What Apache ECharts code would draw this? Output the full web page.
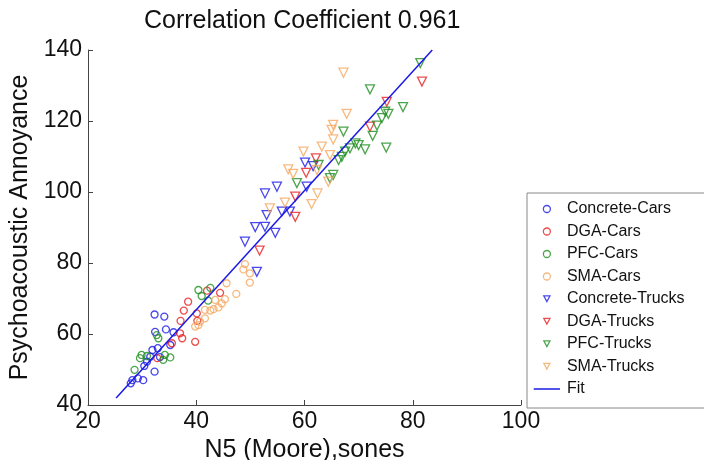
<!DOCTYPE html>
<html>
<head>
<meta charset="utf-8">
<title>Correlation Coefficient 0.961</title>
<script src="https://cdn.jsdelivr.net/npm/echarts@6/dist/echarts.min.js"></script>
<style>
  html, body { margin: 0; padding: 0; background: #fff; }
  #chart { width: 704px; height: 460px; }
</style>
</head>
<body>
<div id="chart"></div>
<script>
// N5 (sones), annoyance 数据
const concreteCars = [
  [32.3, 65.5], [34.1, 64.9], [32.4, 60.6], [34.4, 61.3], [35.8, 60.5],
  [31.9, 55.5], [32.9, 56.0], [31.5, 53.6], [30.9, 52.2], [30.4, 51.0],
  [32.3, 49.4], [29.2, 47.5], [30.2, 47.0], [28.2, 47.0], [27.9, 46.1],
  [33.3, 53.5], [35.2, 56.9],
];
const dgaCars = [
  [38.5, 69.1], [37.7, 66.6], [37.1, 63.7], [40.2, 63.7], [39.8, 57.8],
  [37.0, 60.2], [37.4, 58.8], [35.5, 57.4], [32.8, 53.2], [40.1, 65.8],
  [42.0, 72.2], [44.4, 71.6],
];
const pfcCars = [
  [40.4, 72.4], [42.6, 73.0], [41.0, 70.7], [42.2, 69.4], [32.7, 59.7],
  [33.0, 58.8], [29.9, 54.1], [29.6, 53.2], [28.6, 49.9], [34.2, 54.1],
  [35.2, 53.4], [33.9, 52.7], [30.9, 53.8],
];
const smaCars = [
  [49.0, 79.7], [48.7, 78.2], [49.9, 77.1], [49.9, 74.5], [45.6, 74.3],
  [47.4, 71.3], [45.3, 69.8], [44.7, 68.6], [44.1, 67.5], [43.2, 67.0],
  [42.6, 66.6], [41.6, 64.4], [39.8, 62.1], [40.7, 63.5], [41.6, 66.8],
  [40.4, 62.5], [43.5, 69.6],
];
const concreteTrucks = [
  [50.9, 90.1], [52.7, 90.2], [54.6, 88.5], [49.0, 86.0], [51.2, 77.5],
  [60.1, 108.3], [61.6, 107.3], [60.4, 101.5], [52.7, 99.6], [54.9, 101.5],
  [55.8, 94.5], [57.3, 94.5], [53.0, 93.5],
];
const dgaTrucks = [
  [81.7, 131.1], [75.2, 125.4], [72.1, 118.4], [62.1, 109.5], [60.3, 105.4],
  [58.3, 98.7], [58.3, 93.0], [51.7, 83.5],
];
const pfcTrucks = [
  [81.4, 136.3], [72.1, 128.9], [78.2, 123.9], [74.9, 122.6], [75.5, 122.0],
  [74.3, 120.8], [73.4, 118.7], [72.6, 115.8], [75.1, 112.5], [67.2, 117.0],
  [69.4, 113.7], [70.0, 113.2], [71.2, 112.0], [68.4, 112.3], [67.5, 111.4],
  [66.9, 109.9], [66.3, 109.0], [65.3, 104.8], [64.7, 103.9], [62.6, 107.6],
  [58.6, 102.5],
];
const smaTrucks = [
  [67.2, 133.6], [67.8, 122.0], [65.3, 118.9], [65.0, 117.5], [65.3, 114.8],
  [63.2, 112.8], [59.8, 111.4], [64.7, 110.4], [57.0, 106.4], [57.9, 105.1],
  [64.4, 102.9], [62.4, 99.6], [61.3, 96.6], [56.4, 97.0], [53.6, 95.4],
  [62.3, 106.2],
];
// 拟合直线两端
const fitLine = [[25.2, 42.0], [83.6, 140.0]];

const kFont = '"Liberation Sans", Arial, sans-serif';
const kBlue = '#1a1ae6';
const kRed = '#e62020';
const kGreen = '#1f8f1f';
const kOrange = '#f5a860';

// 图例图标：两端放零长度线段撑开包围盒，中间画小图形
const kTriIcon = 'path://M0,0L0,0M30,8L30,8M11.5,0.5L18.5,0.5L15,7Z';
const kLineIcon = 'path://M0,0L0,0M30,8L30,8M0,4L30,4';

/**
 * 散点系列
 */
function makeScatter(name, data, color, isTriangle) {
  return {
    name,
    type: 'scatter',
    data,
    symbol: isTriangle ? 'triangle' : 'circle',
    symbolRotate: isTriangle ? 180 : 0,
    symbolSize: isTriangle ? 9 : 7,
    itemStyle: {
      color: 'rgba(0,0,0,0)',
      borderColor: color,
      borderWidth: 1.3,
    },
    z: 3,
  };
}

function legendItem(name, color, icon) {
  return {
    name,
    icon,
    itemStyle: { color: 'rgba(0,0,0,0)', borderColor: color, borderWidth: 1.3 },
  };
}

const chart = echarts.init(document.getElementById('chart'));

const option = {
  animation: false,
  backgroundColor: '#fff',
  textStyle: { fontFamily: kFont },
  title: {
    text: 'Correlation Coefficient 0.961',
    left: 139,
    top: 4,
    textStyle: { fontFamily: kFont, fontSize: 25, fontWeight: 'normal', color: '#111' },
  },
  grid: { left: 88, top: 50, right: 183, bottom: 55, outerBoundsMode: 'none', containLabel: false },
  legend: {
    orient: 'vertical',
    left: 527,
    top: 193,
    padding: [8, 60, 11, 6],
    itemWidth: 30,
    itemHeight: 7,
    itemGap: 6.5,
    borderColor: '#888',
    borderWidth: 1,
    borderRadius: 0,
    backgroundColor: '#fff',
    textStyle: { fontFamily: kFont, fontSize: 16, lineHeight: 16, color: '#111' },
    data: [
      legendItem('Concrete-Cars', kBlue, 'circle'),
      legendItem('DGA-Cars', kRed, 'circle'),
      legendItem('PFC-Cars', kGreen, 'circle'),
      legendItem('SMA-Cars', kOrange, 'circle'),
      legendItem('Concrete-Trucks', kBlue, kTriIcon),
      legendItem('DGA-Trucks', kRed, kTriIcon),
      legendItem('PFC-Trucks', kGreen, kTriIcon),
      legendItem('SMA-Trucks', kOrange, kTriIcon),
      { name: 'Fit', icon: kLineIcon, itemStyle: { color: 'rgba(0,0,0,0)', borderColor: kBlue, borderWidth: 1.5 } },
    ],
  },
  xAxis: {
    type: 'value',
    min: 20,
    max: 100,
    interval: 20,
    name: 'N5 (Moore),sones',
    nameLocation: 'middle',
    nameGap: 28,
    nameTextStyle: { fontFamily: kFont, fontSize: 25, color: '#111' },
    axisLine: { lineStyle: { color: '#444', width: 1 } },
    axisTick: { inside: true, length: 5, lineStyle: { color: '#444' } },
    axisLabel: { fontFamily: kFont, fontSize: 23, color: '#111', margin: 5 },
    splitLine: { show: false },
  },
  yAxis: {
    type: 'value',
    min: 40,
    max: 140,
    interval: 20,
    name: 'Psychoacoustic Annoyance',
    nameLocation: 'middle',
    nameGap: 52,
    nameTextStyle: { fontFamily: kFont, fontSize: 25, color: '#111' },
    axisLine: { lineStyle: { color: '#444', width: 1 } },
    axisTick: { inside: true, length: 5, lineStyle: { color: '#444' } },
    axisLabel: { fontFamily: kFont, fontSize: 23, color: '#111', margin: 6 },
    splitLine: { show: false },
  },
  series: [
    makeScatter('Concrete-Cars', concreteCars, kBlue, false),
    makeScatter('DGA-Cars', dgaCars, kRed, false),
    makeScatter('PFC-Cars', pfcCars, kGreen, false),
    makeScatter('SMA-Cars', smaCars, kOrange, false),
    makeScatter('Concrete-Trucks', concreteTrucks, kBlue, true),
    makeScatter('DGA-Trucks', dgaTrucks, kRed, true),
    makeScatter('PFC-Trucks', pfcTrucks, kGreen, true),
    makeScatter('SMA-Trucks', smaTrucks, kOrange, true),
    {
      name: 'Fit',
      type: 'line',
      data: fitLine,
      symbol: 'none',
      lineStyle: { color: kBlue, width: 1.5 },
      itemStyle: { color: kBlue },
      z: 4,
    },
  ],
};

chart.setOption(option);
</script>
</body>
</html>
